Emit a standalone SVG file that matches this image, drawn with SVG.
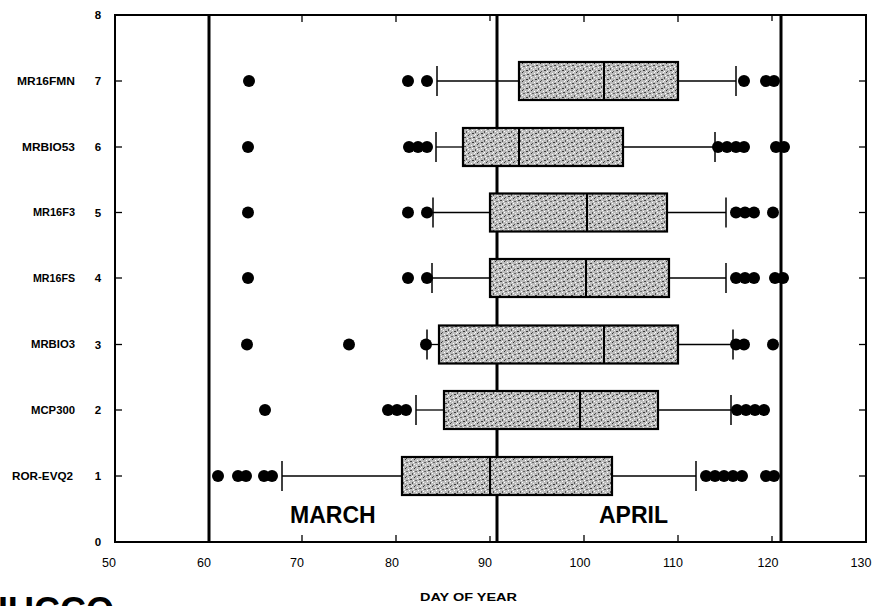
<svg xmlns="http://www.w3.org/2000/svg" width="873" height="606" viewBox="0 0 873 606">
<style>
.frame{fill:none;stroke:#000;stroke-width:2}
.heavy{stroke:#000;stroke-width:3}
.tick{stroke:#000;stroke-width:1.3}
.whisk{stroke:#000;stroke-width:1.3;fill:none}
.cap{stroke:#000;stroke-width:1.5}
.box{fill:url(#stip);stroke:#000;stroke-width:2.2}
.med{stroke:#000;stroke-width:2}
.dot{fill:#000}
.ax{font-family:"Liberation Sans",Arial,sans-serif;font-size:12.5px;fill:#000}
.yl{font-family:"Liberation Sans",Arial,sans-serif;font-size:10.5px;font-weight:bold;fill:#000;text-anchor:end}
.yn{font-family:"Liberation Sans",Arial,sans-serif;font-size:11.5px;font-weight:bold;fill:#000;text-anchor:middle}
.mon{font-family:"Liberation Sans",Arial,sans-serif;font-size:23px;font-weight:bold;fill:#000}
</style>
<defs>
<pattern id="stip" width="9" height="9" patternUnits="userSpaceOnUse">
<rect width="9" height="9" fill="#bdbdbd"/>
<rect x="0" y="0" width="1" height="1" fill="#333"/>
<rect x="3" y="1" width="1" height="1" fill="#fff"/>
<rect x="5" y="2" width="2" height="1" fill="#444"/>
<rect x="1" y="3" width="2" height="1" fill="#666"/>
<rect x="4" y="4" width="1" height="1" fill="#fff"/>
<rect x="7" y="5" width="1" height="2" fill="#555"/>
<rect x="2" y="6" width="1" height="1" fill="#eee"/>
<rect x="0" y="5" width="1" height="1" fill="#fff"/>
<rect x="6" y="0" width="1" height="1" fill="#f4f4f4"/>
<rect x="4" y="7" width="2" height="1" fill="#3a3a3a"/>
<rect x="8" y="3" width="1" height="1" fill="#fff"/>
<rect x="1" y="8" width="1" height="1" fill="#555"/>
<rect x="7" y="8" width="1" height="1" fill="#fff"/>
</pattern>
</defs>
<rect width="873" height="606" fill="#fff"/>

<g id="axes">
<rect class="frame" x="115" y="15" width="751" height="527"/>
<line class="heavy" x1="209" y1="15" x2="209" y2="542"/>
<line class="heavy" x1="497" y1="15" x2="497" y2="542"/>
<line class="heavy" x1="781" y1="15" x2="781" y2="542"/>
<g class="tick">
<line x1="302" y1="542" x2="302" y2="535"/><line x1="396" y1="542" x2="396" y2="535"/><line x1="490" y1="542" x2="490" y2="536"/><line x1="584" y1="542" x2="584" y2="535"/><line x1="678" y1="542" x2="678" y2="535"/><line x1="772" y1="542" x2="772" y2="536"/>
<line x1="302" y1="15" x2="302" y2="22"/><line x1="396" y1="15" x2="396" y2="22"/><line x1="490" y1="15" x2="490" y2="21"/><line x1="584" y1="15" x2="584" y2="22"/><line x1="678" y1="15" x2="678" y2="22"/><line x1="772" y1="15" x2="772" y2="21"/>
<line x1="115" y1="81" x2="122" y2="81"/><line x1="115" y1="147" x2="122" y2="147"/><line x1="115" y1="212.5" x2="122" y2="212.5"/><line x1="115" y1="278" x2="122" y2="278"/><line x1="115" y1="344.5" x2="122" y2="344.5"/><line x1="115" y1="410" x2="122" y2="410"/><line x1="115" y1="476" x2="122" y2="476"/>
<line x1="859" y1="81" x2="866" y2="81"/><line x1="859" y1="147" x2="866" y2="147"/><line x1="859" y1="212.5" x2="866" y2="212.5"/><line x1="859" y1="278" x2="866" y2="278"/><line x1="859" y1="344.5" x2="866" y2="344.5"/><line x1="859" y1="410" x2="866" y2="410"/><line x1="859" y1="476" x2="866" y2="476"/>
</g>
<g class="ax" text-anchor="middle">
<text x="109" y="567">50</text><text x="204" y="567">60</text><text x="297" y="567">70</text><text x="392" y="567">80</text><text x="485" y="567">90</text><text x="580" y="567">100</text><text x="673" y="567">110</text><text x="768" y="567">120</text><text x="861" y="567">130</text>
</g>
<g class="yn">
<text x="98" y="19">8</text><text x="98" y="85">7</text><text x="98" y="151">6</text><text x="98" y="216.5">5</text><text x="98" y="282">4</text><text x="98" y="348.5">3</text><text x="98" y="414">2</text><text x="98" y="480">1</text><text x="98" y="546">0</text>
</g>
<g class="yl">
<text x="75" y="84.5" textLength="58" lengthAdjust="spacingAndGlyphs">MR16FMN</text>
<text x="75" y="150.5" textLength="53" lengthAdjust="spacingAndGlyphs">MRBIO53</text>
<text x="75" y="216" textLength="42" lengthAdjust="spacingAndGlyphs">MR16F3</text>
<text x="75" y="281.5" textLength="42" lengthAdjust="spacingAndGlyphs">MR16FS</text>
<text x="75" y="348" textLength="44" lengthAdjust="spacingAndGlyphs">MRBIO3</text>
<text x="75" y="413.5" textLength="44" lengthAdjust="spacingAndGlyphs">MCP300</text>
<text x="73" y="479.5" textLength="61" lengthAdjust="spacingAndGlyphs">ROR-EVQ2</text>
</g>
<text class="mon" x="290" y="523">MARCH</text>
<text class="mon" x="599" y="523">APRIL</text>
<text x="420" y="601" textLength="97" lengthAdjust="spacingAndGlyphs" font-family="Liberation Sans, Arial, sans-serif" font-size="10.5" font-weight="bold">DAY OF YEAR</text>
<text x="-18" y="623" font-family="Liberation Sans, Arial, sans-serif" font-size="36" font-weight="bold">HUCCO</text>
</g>

<g id="connectors">
<line class="whisk" x1="437" y1="81" x2="519" y2="81"/><line class="whisk" x1="678" y1="81" x2="736" y2="81"/>
<line class="whisk" x1="436" y1="147" x2="463" y2="147"/><line class="whisk" x1="623" y1="147" x2="715" y2="147"/>
<line class="whisk" x1="433" y1="212.5" x2="490" y2="212.5"/><line class="whisk" x1="667" y1="212.5" x2="726" y2="212.5"/>
<line class="whisk" x1="432" y1="278" x2="490" y2="278"/><line class="whisk" x1="669" y1="278" x2="726" y2="278"/>
<line class="whisk" x1="427" y1="344.5" x2="439" y2="344.5"/><line class="whisk" x1="678" y1="344.5" x2="733" y2="344.5"/>
<line class="whisk" x1="416" y1="410" x2="444" y2="410"/><line class="whisk" x1="658" y1="410" x2="731" y2="410"/>
<line class="whisk" x1="282" y1="476" x2="402" y2="476"/><line class="whisk" x1="612" y1="476" x2="696" y2="476"/>
</g>

<g id="row7">
<rect class="box" x="519" y="62" width="159" height="38"/><line class="med" x1="604" y1="62" x2="604" y2="100"/>
<line class="cap" x1="437" y1="66" x2="437" y2="96"/><line class="cap" x1="736" y1="66" x2="736" y2="96"/>
<circle class="dot" cx="249" cy="81" r="6"/><circle class="dot" cx="408" cy="81" r="6"/><circle class="dot" cx="427" cy="81" r="6"/>
<circle class="dot" cx="744" cy="81" r="6"/><circle class="dot" cx="766" cy="81" r="6"/><circle class="dot" cx="774" cy="81" r="6"/>
</g>
<g id="row6">
<rect class="box" x="463" y="128" width="160" height="38"/><line class="med" x1="519" y1="128" x2="519" y2="166"/>
<line class="cap" x1="436" y1="132" x2="436" y2="162"/><line class="cap" x1="715" y1="132" x2="715" y2="162"/>
<circle class="dot" cx="248" cy="147" r="6"/><circle class="dot" cx="409" cy="147" r="6"/><circle class="dot" cx="418" cy="147" r="6"/><circle class="dot" cx="427" cy="147" r="6"/>
<circle class="dot" cx="718" cy="147" r="6"/><circle class="dot" cx="727" cy="147" r="6"/><circle class="dot" cx="736" cy="147" r="6"/><circle class="dot" cx="744" cy="147" r="6"/>
<circle class="dot" cx="776" cy="147" r="6"/><circle class="dot" cx="784" cy="147" r="6"/>
</g>
<g id="row5">
<rect class="box" x="490" y="193.5" width="177" height="38"/><line class="med" x1="587" y1="193.5" x2="587" y2="231.5"/>
<line class="cap" x1="433" y1="197.5" x2="433" y2="227.5"/><line class="cap" x1="726" y1="197.5" x2="726" y2="227.5"/>
<circle class="dot" cx="248" cy="212.5" r="6"/><circle class="dot" cx="408" cy="212.5" r="6"/><circle class="dot" cx="427" cy="212.5" r="6"/>
<circle class="dot" cx="736" cy="212.5" r="6"/><circle class="dot" cx="745" cy="212.5" r="6"/><circle class="dot" cx="754" cy="212.5" r="6"/><circle class="dot" cx="773" cy="212.5" r="6"/>
</g>
<g id="row4">
<rect class="box" x="490" y="259" width="179" height="38"/><line class="med" x1="586" y1="259" x2="586" y2="297"/>
<line class="cap" x1="432" y1="263" x2="432" y2="293"/><line class="cap" x1="726" y1="263" x2="726" y2="293"/>
<circle class="dot" cx="248" cy="278" r="6"/><circle class="dot" cx="408" cy="278" r="6"/><circle class="dot" cx="427" cy="278" r="6"/>
<circle class="dot" cx="736" cy="278" r="6"/><circle class="dot" cx="745" cy="278" r="6"/><circle class="dot" cx="754" cy="278" r="6"/>
<circle class="dot" cx="775" cy="278" r="6"/><circle class="dot" cx="783" cy="278" r="6"/>
</g>
<g id="row3">
<rect class="box" x="439" y="325.5" width="239" height="38"/><line class="med" x1="604" y1="325.5" x2="604" y2="363.5"/>
<line class="cap" x1="427" y1="329.5" x2="427" y2="359.5"/><line class="cap" x1="733" y1="329.5" x2="733" y2="359.5"/>
<circle class="dot" cx="247" cy="344.5" r="6"/><circle class="dot" cx="349" cy="344.5" r="6"/><circle class="dot" cx="426" cy="344.5" r="6"/>
<circle class="dot" cx="736" cy="344.5" r="6"/><circle class="dot" cx="744" cy="344.5" r="6"/><circle class="dot" cx="773" cy="344.5" r="6"/>
</g>
<g id="row2">
<rect class="box" x="444" y="391" width="214" height="38"/><line class="med" x1="580" y1="391" x2="580" y2="429"/>
<line class="cap" x1="416" y1="395" x2="416" y2="425"/><line class="cap" x1="731" y1="395" x2="731" y2="425"/>
<circle class="dot" cx="265" cy="410" r="6"/><circle class="dot" cx="388" cy="410" r="6"/><circle class="dot" cx="397" cy="410" r="6"/><circle class="dot" cx="406" cy="410" r="6"/>
<circle class="dot" cx="737" cy="410" r="6"/><circle class="dot" cx="746" cy="410" r="6"/><circle class="dot" cx="755" cy="410" r="6"/><circle class="dot" cx="764" cy="410" r="6"/>
</g>
<g id="row1">
<rect class="box" x="402" y="457" width="210" height="38"/><line class="med" x1="490" y1="457" x2="490" y2="495"/>
<line class="cap" x1="282" y1="461" x2="282" y2="491"/><line class="cap" x1="696" y1="461" x2="696" y2="491"/>
<circle class="dot" cx="218" cy="476" r="6"/><circle class="dot" cx="238" cy="476" r="6"/><circle class="dot" cx="246" cy="476" r="6"/><circle class="dot" cx="264" cy="476" r="6"/><circle class="dot" cx="272" cy="476" r="6"/>
<circle class="dot" cx="706" cy="476" r="6"/><circle class="dot" cx="715" cy="476" r="6"/><circle class="dot" cx="724" cy="476" r="6"/><circle class="dot" cx="733" cy="476" r="6"/><circle class="dot" cx="742" cy="476" r="6"/>
<circle class="dot" cx="766" cy="476" r="6"/><circle class="dot" cx="774" cy="476" r="6"/>
</g>
</svg>
